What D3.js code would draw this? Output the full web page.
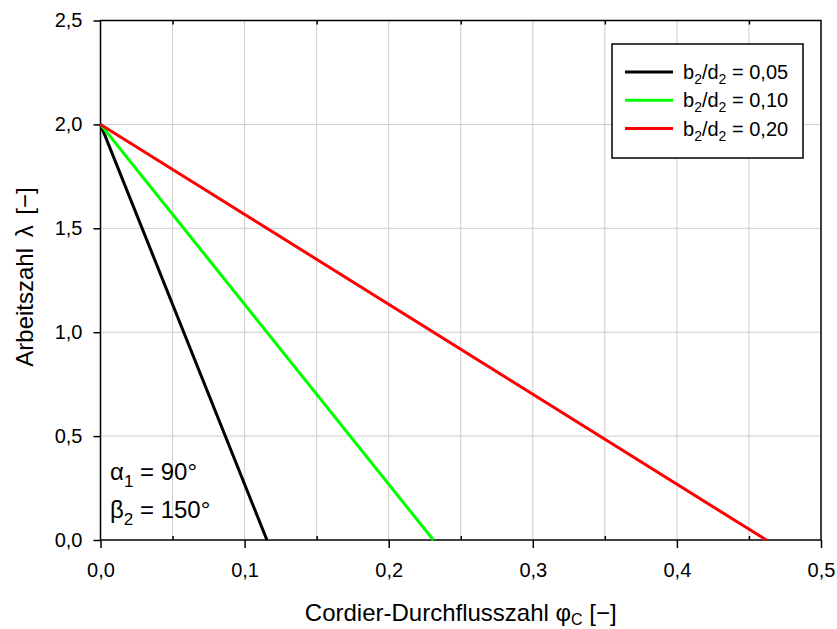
<!DOCTYPE html>
<html>
<head>
<meta charset="utf-8">
<script src="https://cdn.jsdelivr.net/npm/d3@7"></script>
<style>
html,body{margin:0;padding:0;background:#fff;}
text{font-family:"Liberation Sans",Arial,sans-serif;fill:#000;}
</style>
</head>
<body>
<svg id="chart" width="837" height="629"></svg>
<script>
// ---- data ----
const seriesNames = ["0,05", "0,10", "0,20"];
const seriesColors = ["#000000", "#00ff00", "#ff0000"];
const lineStart = [[0, 2.0], [0, 2.0], [0, 2.0]];
const lineEnd = [[0.1155, 0], [0.231, 0], [0.462, 0]];
const xTicks = [0, 0.1, 0.2, 0.3, 0.4, 0.5];
const xMinor = [0.05, 0.15, 0.25, 0.35, 0.45];
const xGrid = [0.05, 0.1, 0.15, 0.2, 0.25, 0.3, 0.35, 0.4, 0.45];
const yTicks = [0, 0.5, 1.0, 1.5, 2.0, 2.5];
const yGrid = [0.5, 1.0, 1.5, 2.0];

const svg = d3.select("#chart");
const m = {l:100.5, r:821, t:20.5, b:540};
const x = d3.scaleLinear().domain([0, 0.5]).range([m.l, m.r]);
const y = d3.scaleLinear().domain([0, 2.5]).range([m.b, m.t]);
const fmt = d => d3.format(".1f")(d).replace(".", ",");

// grid
svg.append("g").selectAll("line").data(xGrid).join("line")
  .attr("x1", d => x(d)).attr("x2", d => x(d)).attr("y1", m.t).attr("y2", m.b)
  .attr("stroke", "#cccccc").attr("stroke-width", 1);
svg.append("g").selectAll("line").data(yGrid).join("line")
  .attr("y1", d => y(d)).attr("y2", d => y(d)).attr("x1", m.l).attr("x2", m.r)
  .attr("stroke", "#cccccc").attr("stroke-width", 1);

// axes
const xAxis = svg.append("g").attr("transform", `translate(0,${m.b})`)
  .call(d3.axisBottom(x).tickValues(xTicks).tickFormat(fmt).tickSize(8).tickPadding(15));
const xMinorAxis = svg.append("g").attr("transform", `translate(0,${m.b})`)
  .call(d3.axisTop(x).tickValues(xMinor).tickFormat("").tickSize(4));
const xTopMinor = svg.append("g").attr("transform", `translate(0,${m.t})`)
  .call(d3.axisBottom(x).tickValues(xMinor).tickFormat("").tickSize(4));
const yAxis = svg.append("g").attr("transform", `translate(${m.l},0)`)
  .call(d3.axisLeft(y).tickValues(yTicks).tickFormat(fmt).tickSize(7).tickPadding(11));
[xAxis, xMinorAxis, xTopMinor, yAxis].forEach(g => {
  g.select(".domain").remove();
  g.selectAll("line").attr("stroke", "#000").attr("stroke-width", 1.5);
  g.selectAll("text").attr("font-size", 20).attr("font-family", '"Liberation Sans",Arial,sans-serif');
});

// frame
svg.append("rect").attr("x", m.l).attr("y", m.t).attr("width", m.r - m.l).attr("height", m.b - m.t)
  .attr("fill", "none").attr("stroke", "#000").attr("stroke-width", 1.5);

// lines
const lineGen = d3.line().x(d => x(d[0])).y(d => y(d[1]));
seriesNames.forEach((n, i) => {
  svg.append("path").datum([lineStart[i], lineEnd[i]]).attr("d", lineGen)
    .attr("fill", "none").attr("stroke", seriesColors[i]).attr("stroke-width", 3);
});

// legend
const lg = svg.append("g");
lg.append("rect").attr("x", 612).attr("y", 44).attr("width", 191).attr("height", 114)
  .attr("fill", "#fff").attr("stroke", "#000").attr("stroke-width", 1.5);
seriesNames.forEach((n, i) => {
  const yy = 72 + i * 28.3;
  lg.append("line").attr("x1", 625).attr("x2", 673).attr("y1", yy).attr("y2", yy)
    .attr("stroke", seriesColors[i]).attr("stroke-width", 3);
  const t = lg.append("text").attr("x", 683).attr("y", yy + 7).attr("font-size", 20);
  t.append("tspan").text("b");
  t.append("tspan").attr("font-size", 14).attr("dy", 5).text("2");
  t.append("tspan").attr("dy", -5).text("/d");
  t.append("tspan").attr("font-size", 14).attr("dy", 5).text("2");
  t.append("tspan").attr("dy", -5).text(" = " + n);
});

// annotation
const a1 = svg.append("text").attr("x", 110).attr("y", 480).attr("font-size", 24);
a1.append("tspan").text("α");
a1.append("tspan").attr("font-size", 17).attr("dy", 7).text("1");
a1.append("tspan").attr("dy", -7).text(" = 90°");
const a2 = svg.append("text").attr("x", 110).attr("y", 518).attr("font-size", 24);
a2.append("tspan").text("β");
a2.append("tspan").attr("font-size", 17).attr("dy", 7).text("2");
a2.append("tspan").attr("dy", -7).text(" = 150°");

// axis titles
const xt = svg.append("text").attr("x", (m.l + m.r) / 2).attr("y", 621).attr("text-anchor", "middle").attr("font-size", 24);
xt.append("tspan").text("Cordier-Durchflusszahl φ");
xt.append("tspan").attr("font-size", 16).attr("dy", 4).text("C");
xt.append("tspan").attr("dy", -4).text(" [−]");
const yt = svg.append("text").attr("transform", "translate(33,277) rotate(-90)").attr("text-anchor", "middle")
  .attr("font-size", 24);
yt.append("tspan").text("Arbeitszahl");
yt.append("tspan").attr("dx", 4).text(" λ");
yt.append("tspan").attr("dx", 4).text(" [−]");
</script>
</body>
</html>
